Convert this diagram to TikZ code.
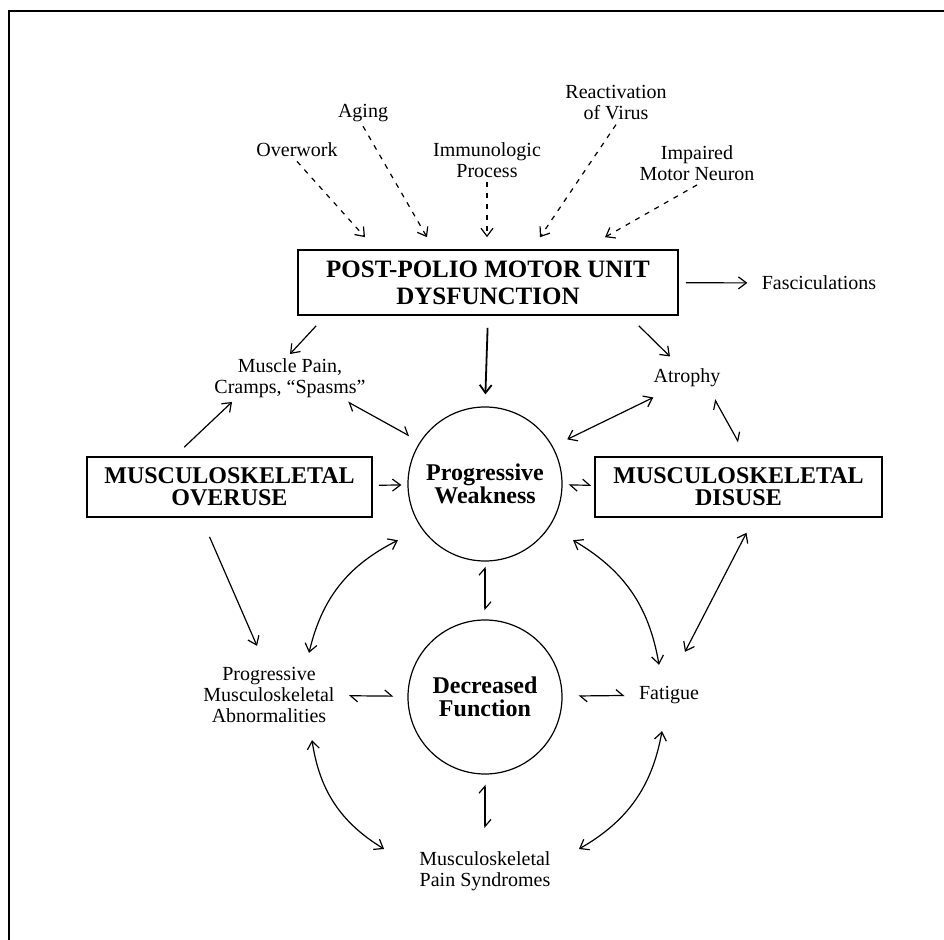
\documentclass[tikz,border=0pt]{standalone}
\usepackage{fontspec}
\setmainfont{Liberation Serif}
\usetikzlibrary{arrows.meta}

\begin{document}
\begin{tikzpicture}[x=0.5pt, y=-0.5pt,
    lbl/.style={align=center, inner sep=2pt, font=\fontsize{10}{10.5}\selectfont},
    bigbox/.style={draw, line width=0.8pt, minimum width=142.5pt, minimum height=30pt,
        align=center, font=\bfseries\fontsize{12}{11}\selectfont},
    ring/.style={draw, circle, line width=0.6pt, minimum size=77pt, align=center,
        font=\bfseries\fontsize{12}{11.5}\selectfont},
    arr/.style={line width=0.6pt, -{Straight Barb[length=4pt,width=6pt]}},
    dbl/.style={line width=0.6pt, {Straight Barb[harpoon,length=3.5pt,width=6pt]}-{Straight Barb[harpoon,length=3.5pt,width=6pt]}},
    both/.style={line width=0.6pt, {Straight Barb[length=4pt,width=6pt]}-{Straight Barb[length=4pt,width=6pt]}},
    dsh/.style={arr, dash pattern=on 2.5pt off 3pt}]
    \useasboundingbox (0,0) rectangle (944,940);
    % Frame
    \draw[line width=1pt] (944,11) -- (9,11) -- (9,940);
    % Causes
    \node[lbl] (over) at (297,150) {Overwork};
    \node[lbl] (aging) at (363,113) {Aging};
    \node[lbl] (immuno) at (487,160) {Immunologic\\Process};
    \node[lbl] (virus) at (616,103) {Reactivation\\of Virus};
    \node[lbl] (neuron) at (697,163) {Impaired\\Motor Neuron};
    % Boxes and circles
    \node[bigbox, minimum width=190pt, minimum height=32.5pt,
        font=\bfseries\fontsize{12.5}{13.5}\selectfont] (top) at (488,282.5)
        {POST-POLIO MOTOR UNIT\\DYSFUNCTION};
    \node[bigbox] (overuse) at (229.5,487) {MUSCULOSKELETAL\\OVERUSE};
    \node[bigbox, minimum width=143.5pt] (disuse) at (738.5,487) {MUSCULOSKELETAL\\DISUSE};
    \node[ring] (weak) at (485,484) {Progressive\\Weakness};
    \node[ring] (dec) at (485,697) {Decreased\\Function};
    % Effects
    \node[lbl] (fasc) at (819,283) {Fasciculations};
    \node[lbl] (pain) at (290,378) {Muscle Pain,\\Cramps, ``Spasms''};
    \node[lbl] (atrophy) at (687,378) {Atrophy};
    \node[lbl] (abn) at (269,695) {Progressive\\Musculoskeletal\\Abnormalities};
    \node[lbl] (fatigue) at (669,695) {Fatigue};
    \node[lbl] (synd) at (485,871) {Musculoskeletal\\Pain Syndromes};
    % Dashed arrows
    \foreach \src/\dx in {over/-61.5, aging/-30.5, immuno/-0.5, virus/26, neuron/58.5}
        \draw[dsh] (\src.south) -- ([xshift=\dx pt, yshift=6pt]top.north);
    % Arrows
    \draw[arr, shorten <=3.5pt, shorten >=5pt] (top) -- (fasc);
    \draw[arr] ([xshift=9.5pt, yshift=-5pt]top.south west) -- (pain.north);
    \draw[arr, line width=0.9pt, shorten <=6pt, shorten >=6pt] (top.south) -- (weak.north);
    \draw[arr] ([xshift=-20pt, yshift=-5pt]top.south east) -- ([xshift=-8.5pt, yshift=4pt]atrophy.north);
    \draw[arr] ([xshift=49pt, yshift=4.5pt]overuse.north west) -- ([xshift=11pt]pain.south west);
    \draw[dbl, shorten >=6pt] ([xshift=-11pt]pain.south east) -- (weak.147);
    \draw[both, shorten >=8pt] ([xshift=2pt, yshift=-3pt]atrophy.south west) -- (weak.29);
    \draw[dbl] ([xshift=-5pt, yshift=-4pt]atrophy.south east) -- ([yshift=7pt]disuse.north);
    \draw[arr, shorten <=3pt, shorten >=3pt] (overuse) -- (weak);
    \draw[dbl, shorten <=3pt, shorten >=1.5pt] (weak) -- (disuse);
    \draw[arr] ([xshift=-10pt, yshift=-9.5pt]overuse.south) -- ([xshift=-6pt, yshift=8.5pt]abn.north);
    \draw[both] ([xshift=4pt, yshift=-7.5pt]disuse.south) -- ([xshift=8pt, yshift=15pt]fatigue.north);
    \draw[dbl, shorten <=2.5pt, shorten >=4.5pt] (weak) -- (dec);
    \draw[dbl, shorten <=5pt, shorten >=9.5pt] (dec) -- (synd);
    \draw[dbl, shorten <=5pt, shorten >=7pt] (abn) -- (dec);
    \draw[dbl, shorten <=8pt, shorten >=5pt] (dec) -- (fatigue);
    % Loop
    \draw[both] ([xshift=20pt, yshift=5pt]abn.north) to[bend left=25] ([xshift=-11pt, yshift=-7pt]weak.213);
    \draw[both] ([xshift=11.5pt, yshift=-7pt]weak.-33) to[bend left=25] ([xshift=-5pt, yshift=8.5pt]fatigue.north);
    \draw[both] ([xshift=21.5pt, yshift=-6.5pt]abn.south) to[bend right=25] ([xshift=-15.5pt, yshift=11pt]synd.west);
    \draw[both] ([xshift=12pt, yshift=11pt]synd.east) to[bend right=25] ([xshift=-3.5pt, yshift=-11.5pt]fatigue.south);
\end{tikzpicture}
\end{document}
